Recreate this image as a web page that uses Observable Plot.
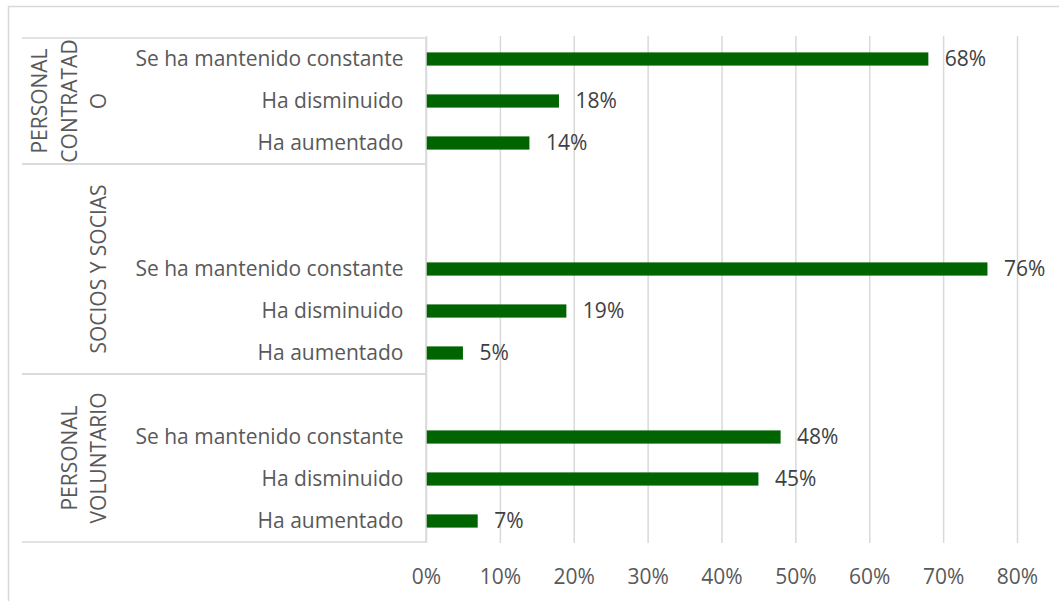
<!DOCTYPE html>
<html><head><meta charset="utf-8">
<script src="https://cdn.jsdelivr.net/npm/d3@7"></script>
<script src="https://cdn.jsdelivr.net/npm/@observablehq/plot@0.6"></script>
<style>body{margin:0;background:#fff;} svg{display:block}</style>
</head><body><div id="chart"></div>
<script>
const groups = ["PERSONAL CONTRATADO", "SOCIOS Y SOCIAS", "PERSONAL VOLUNTARIO"];
const groupLines = [["PERSONAL", "CONTRATAD", "O"], ["SOCIOS Y SOCIAS"], ["PERSONAL", "VOLUNTARIO"]];
const blankRows = [0, 2, 1];
const categories = ["Se ha mantenido constante", "Ha disminuido", "Ha aumentado"];
const contratado = [0.68, 0.18, 0.14];
const socios = [0.76, 0.19, 0.05];
const voluntario = [0.48, 0.45, 0.07];
const xTicks = [0, 0.1, 0.2, 0.3, 0.4, 0.5, 0.6, 0.7, 0.8];

const seriesValues = [contratado, socios, voluntario];
const slots = [];
const bars = [];
groups.forEach((g, gi) => {
  for (let b = 0; b < blankRows[gi]; b++) slots.push({key: `${gi}-blank${b}`, label: "", group: gi});
  categories.forEach((c, ci) => {
    const key = `${gi}-${ci}`;
    slots.push({key, label: c, group: gi});
    bars.push({key, value: seriesValues[gi][ci]});
  });
});
const labelOf = new Map(slots.map(s => [s.key, s.label]));
const pct = d3.format(".0%");
const FONT = "'Open Sans', sans-serif";

const plot = Plot.plot({
  width: 1059, height: 601,
  marginTop: 36, marginBottom: 58, marginLeft: 426, marginRight: 42,
  style: {fontFamily: FONT, fontSize: "21px", color: "#595959", background: "white"},
  x: {domain: [0, 0.8], label: null},
  y: {domain: slots.map(s => s.key), padding: 0, label: null},
  marks: [
    Plot.ruleX(xTicks, {stroke: "#d9d9d9", strokeWidth: 1.5}),
    Plot.barX(bars, {x: "value", y: "key", fill: "#006400", insetTop: 14.4, insetBottom: 14.4}),
    Plot.text(bars, {x: "value", y: "key", text: d => pct(d.value), textAnchor: "start", dx: 16, fill: "#404040", fontSize: 21}),
    Plot.axisX({ticks: xTicks, tickSize: 0, tickPadding: 26, tickFormat: pct, label: null, fill: "#595959"}),
    Plot.axisY({tickSize: 0, tickPadding: 23, tickFormat: k => labelOf.get(k), label: null, fill: "#595959"})
  ]
});

const svg = d3.select(plot);
const ys = plot.scale("y");
const xs = plot.scale("x");
const x0 = xs.apply(0);
const bw = ys.bandwidth;
const deco = svg.append("g");
// outer chart border
deco.append("rect").attr("x", 8.5).attr("y", 6.5).attr("width", 1100).attr("height", 700)
  .attr("fill", "none").attr("stroke", "#d9d9d9").attr("stroke-width", 1.5);
// axis line at 0
deco.append("line").attr("x1", x0).attr("x2", x0)
  .attr("y1", ys.apply(slots[0].key)).attr("y2", ys.apply(slots[slots.length - 1].key) + bw)
  .attr("stroke", "#d9d9d9").attr("stroke-width", 1.5);
groups.forEach((g, gi) => {
  const gs = slots.filter(s => s.group === gi);
  const top = ys.apply(gs[0].key);
  const bottom = ys.apply(gs[gs.length - 1].key) + bw;
  [top, bottom].forEach(yy => deco.append("line").attr("x1", 22).attr("x2", x0)
    .attr("y1", yy).attr("y2", yy).attr("stroke", "#d9d9d9").attr("stroke-width", 1.5));
  const lines = groupLines[gi];
  const cy = (top + bottom) / 2;
  lines.forEach((ln, li) => {
    const cx = 98 - (lines.length - 1 - li) * 29.5;
    deco.append("text").attr("transform", `translate(${cx},${cy}) rotate(-90)`)
      .attr("text-anchor", "middle").attr("dominant-baseline", "central")
      .attr("fill", "#595959").style("font-family", FONT).style("font-size", "21px").text(ln);
  });
});
document.getElementById("chart").appendChild(plot);
</script>
</body></html>
